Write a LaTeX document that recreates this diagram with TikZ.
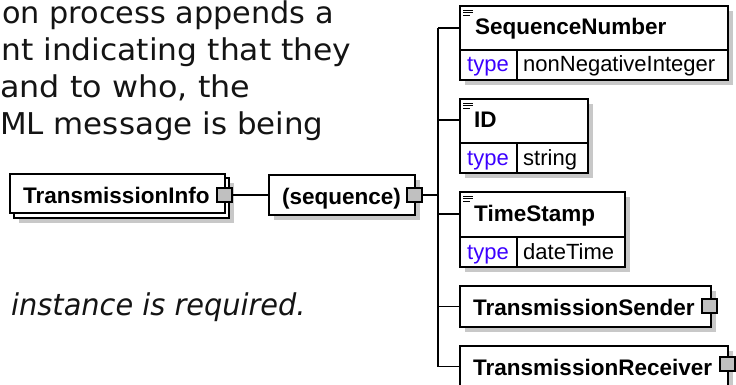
\documentclass[tikz,border=0pt]{standalone}
\usepackage{fontspec}
\usepackage{graphicx}
\setmainfont{DejaVu Sans}
\newfontfamily\arialf{Liberation Sans}
\usetikzlibrary{shadows}
\definecolor{shadowc}{RGB}{200,200,200}
\definecolor{expc}{RGB}{192,192,192}
\definecolor{typec}{RGB}{60,0,255}
\definecolor{bodyc}{RGB}{20,20,20}
\begin{document}
\begin{tikzpicture}[x=1pt,y=-1pt,
  plainbox/.style={draw=black, line width=1.2pt, fill=white, inner sep=0pt, outer sep=0pt, anchor=north west},
  box/.style={plainbox, drop shadow={shadow xshift=5pt, shadow yshift=-5pt, fill=shadowc, opacity=1}},
  expbox/.style={draw=black, line width=1.1pt, fill=expc, inner sep=0pt, outer sep=0pt, minimum width=15pt, minimum height=14pt, anchor=north west},
  conn/.style={line width=1.2pt},
  bodytext/.style={font=\fontsize{30}{36}\selectfont, text=bodyc, anchor=base west, inner sep=0pt},
  italtext/.style={font=\fontsize{30}{36}\selectfont\itshape, text=bodyc, anchor=base west, inner sep=0pt},
  elname/.style={font=\arialf\bfseries\fontsize{22.5}{27}\selectfont, anchor=base west, inner sep=0pt},
  tlabel/.style={font=\arialf\fontsize{22}{26}\selectfont, anchor=base west, inner sep=0pt, text=typec},
  tval/.style={font=\arialf\fontsize{22}{26}\selectfont, anchor=base west, inner sep=0pt},
  docline/.style={line width=0.9pt}
]
\fill[white] (0,0) rectangle (736,385);
\useasboundingbox (0,0) rectangle (736,385);

% body text fragments
\node[bodytext] (t1) at (2,24) {\scalebox{1.01}[1]{on process appends a}};
\node[bodytext] (t2) at (1,61) {\scalebox{1.045}[1]{nt indicating that they}};
\node[bodytext] (t3) at (0,98) {\scalebox{1.06}[1]{and to who, the}};
\node[bodytext] (t4) at (0,135) {\scalebox{1.03}[1]{ML message is being}};
\node[italtext] (t5) at (11,315) {\scalebox{0.96}[1]{instance is required.}};

% TransmissionInfo (stacked box)
\node[box, minimum width=215pt, minimum height=40pt] (tiback) at (14,178) {};
\node[plainbox, minimum width=215pt, minimum height=39pt] (ti) at (10,174) {};
\node[elname] (tit) at (23,203) {TransmissionInfo};
\node[expbox] (tix) at (217,188) {};

% sequence
\node[box, minimum width=146pt, minimum height=40pt] (seq) at (269,175) {};
\node[elname] (seqt) at (282,204) {(sequence)};
\node[expbox] (seqx) at (407,188) {};

\draw[conn] (tix.east) -- (tix.east -| seq.west);

% junction coordinates
\coordinate (j0) at (438,195);
\coordinate (j1) at (438,28);
\coordinate (j2) at (438,120);
\coordinate (j3) at (438,214);
\coordinate (j4) at (438,306.5);
\coordinate (j5) at (438,366.5);
\draw[conn] (seqx.east) -- (j0);
\draw[conn] (j1) -- (j5);

% SequenceNumber
\node[box, minimum width=268pt, minimum height=74pt] (sn) at (460,6) {};
\draw[conn] (460,50) -- (728,50) (517,50) -- (517,80);
\draw[docline] (463,10) -- (473,10) (463,12.7) -- (473,12.7) (463,15.4) -- (470,15.4);
\node[elname] (snt) at (475,35) {SequenceNumber};
\node[tlabel] (snl) at (467,72) {type};
\node[tval] (snv) at (523,72) {nonNegativeInteger};
\draw[conn] (j1) -- (j1 -| sn.west);

% ID
\node[box, minimum width=128pt, minimum height=74pt] (id) at (460,99) {};
\draw[conn] (460,143) -- (588,143) (517,143) -- (517,173);
\draw[docline] (463,103) -- (473,103) (463,105.7) -- (473,105.7) (463,108.4) -- (470,108.4);
\node[elname] (idt) at (474,128) {ID};
\node[tlabel] (idl) at (467,165) {type};
\node[tval] (idv) at (523,165) {string};
\draw[conn] (j2) -- (j2 -| id.west);

% TimeStamp
\node[box, minimum width=165pt, minimum height=75pt] (ts) at (460,192) {};
\draw[conn] (460,237) -- (625,237) (517,237) -- (517,267);
\draw[docline] (463,196) -- (473,196) (463,198.7) -- (473,198.7) (463,201.4) -- (470,201.4);
\node[elname] (tst) at (474,221) {TimeStamp};
\node[tlabel] (tsl) at (467,259) {type};
\node[tval] (tsv) at (523,259) {dateTime};
\draw[conn] (j3) -- (j3 -| ts.west);

% TransmissionSender
\node[box, minimum width=251pt, minimum height=41pt] (snd) at (460,286) {};
\node[elname] (sndt) at (473,315) {TransmissionSender};
\node[expbox] (sndx) at (702,299) {};
\draw[conn] (j4) -- (j4 -| snd.west);

% TransmissionReceiver
\node[box, minimum width=268pt, minimum height=41pt] (rcv) at (460,346) {};
\node[elname] (rcvt) at (473,375) {TransmissionReceiver};
\node[expbox] (rcvx) at (720,357) {};
\draw[conn] (j5) -- (j5 -| rcv.west);
\end{tikzpicture}
\end{document}
